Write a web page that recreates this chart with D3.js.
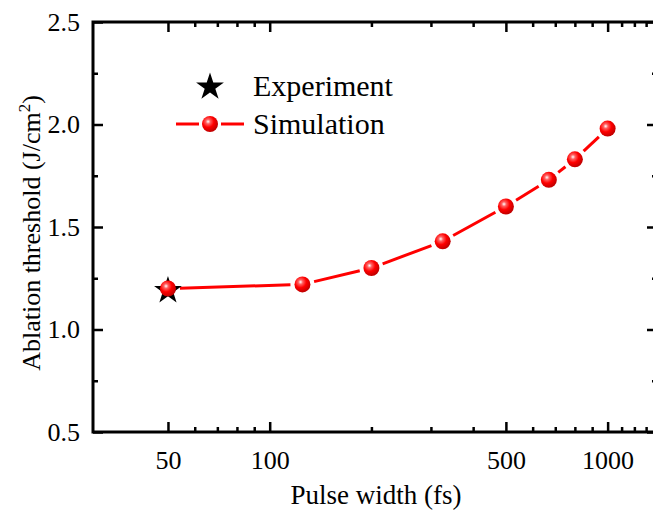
<!DOCTYPE html>
<html>
<head>
<meta charset="utf-8">
<script src="https://cdn.jsdelivr.net/npm/d3@7"></script>
<style>
  body { margin: 0; background: #fff; }
  text { font-family: "Liberation Serif", "Times New Roman", serif; fill: #000; }
</style>
</head>
<body>
<div id="chart"></div>
<script>
// data
const pulseWidth = [50, 125, 200, 325, 500, 670, 800, 1000]
const threshold = [1.2, 1.22, 1.3, 1.43, 1.6, 1.73, 1.83, 1.98]
const expWidth = [50]
const expThreshold = [1.19]

const xMajor = [50, 100, 500, 1000]
const xMinor = [60, 70, 80, 90, 200, 300, 400, 600, 700, 800, 900, 1100, 1200, 1300]
const yMajor = [0.5, 1.0, 1.5, 2.0, 2.5]
const yMinor = [0.75, 1.25, 1.75, 2.25]

const width = 653
const height = 513
const plotL = 93, plotR = 657, plotT = 22, plotB = 432

const svg = d3
  .select("#chart")
  .append("svg")
  .attr("width", width)
  .attr("height", height)

const x = d3.scaleLog().domain([30, 1400]).range([plotL, plotR])
const y = d3.scaleLinear().domain([0.5, 2.5]).range([plotB, plotT])

// gradient for the shiny red balls
const defs = svg.append("defs")
const grad = defs
  .append("radialGradient")
  .attr("id", "ball")
  .attr("cx", "38%")
  .attr("cy", "35%")
  .attr("r", "65%")
grad.append("stop").attr("offset", "0%").attr("stop-color", "#ffffff")
grad.append("stop").attr("offset", "22%").attr("stop-color", "#ff6060")
grad.append("stop").attr("offset", "55%").attr("stop-color", "#ff0000")
grad.append("stop").attr("offset", "100%").attr("stop-color", "#c00000")

// ticks, all pointing inward
function drawTicks(g, axis) {
  g.call(axis)
  g.select(".domain").remove()
  g.selectAll(".tick line").attr("stroke", "#000").attr("stroke-width", 2.5)
  g.selectAll("text").style("font-size", "26px").attr("fill", "#000")
}

svg.append("g")
  .attr("transform", `translate(0,${plotB})`)
  .call((g) => drawTicks(g, d3.axisBottom(x).tickValues(xMajor).tickFormat(d3.format("d")).tickSize(-10).tickPadding(19)))
svg.append("g")
  .attr("transform", `translate(0,${plotB})`)
  .call((g) => drawTicks(g, d3.axisBottom(x).tickValues(xMinor).tickFormat("").tickSize(-5)))
svg.append("g")
  .attr("transform", `translate(0,${plotT})`)
  .call((g) => drawTicks(g, d3.axisTop(x).tickValues(xMajor).tickFormat("").tickSize(-10)))
svg.append("g")
  .attr("transform", `translate(0,${plotT})`)
  .call((g) => drawTicks(g, d3.axisTop(x).tickValues(xMinor).tickFormat("").tickSize(-5)))

svg.append("g")
  .attr("transform", `translate(${plotL},0)`)
  .call((g) => drawTicks(g, d3.axisLeft(y).tickValues(yMajor).tickFormat(d3.format(".1f")).tickSize(-10).tickPadding(13)))
svg.append("g")
  .attr("transform", `translate(${plotL},0)`)
  .call((g) => drawTicks(g, d3.axisLeft(y).tickValues(yMinor).tickFormat("").tickSize(-5)))
svg.append("g")
  .attr("transform", `translate(${plotR},0)`)
  .call((g) => drawTicks(g, d3.axisRight(y).tickValues(yMajor).tickFormat("").tickSize(-10)))
svg.append("g")
  .attr("transform", `translate(${plotR},0)`)
  .call((g) => drawTicks(g, d3.axisRight(y).tickValues(yMinor).tickFormat("").tickSize(-5)))

// frame
svg.append("rect")
  .attr("x", plotL)
  .attr("y", plotT)
  .attr("width", plotR - plotL)
  .attr("height", plotB - plotT)
  .attr("fill", "none")
  .attr("stroke", "#000")
  .attr("stroke-width", 3)

// axis titles
svg.append("text")
  .attr("x", 376)
  .attr("y", 504)
  .attr("text-anchor", "middle")
  .style("font-size", "27px")
  .text("Pulse width (fs)")

const yTitle = svg.append("text")
  .attr("transform", `translate(40,${(plotT + plotB) / 2 + 6}) rotate(-90)`)
  .attr("text-anchor", "middle")
  .style("font-size", "26px")
yTitle.append("tspan").text("Ablation threshold (J/cm")
yTitle.append("tspan").attr("dy", -10).style("font-size", "17px").text("2")
yTitle.append("tspan").attr("dy", 10).text(")")

// simulation line, with small gaps around the balls
const pts = pulseWidth.map((d, i) => [x(d), y(threshold[i])])
const gap = 12
const segs = d3.pairs(pts).map(([a, b]) => {
  const dx = b[0] - a[0], dy = b[1] - a[1]
  const len = Math.hypot(dx, dy)
  const ux = dx / len, uy = dy / len
  return [a[0] + ux * gap, a[1] + uy * gap, b[0] - ux * gap, b[1] - uy * gap]
})
svg.append("g")
  .selectAll("line")
  .data(segs)
  .join("line")
  .attr("x1", (d) => d[0])
  .attr("y1", (d) => d[1])
  .attr("x2", (d) => d[2])
  .attr("y2", (d) => d[3])
  .attr("stroke", "#ff0000")
  .attr("stroke-width", 3)

// experiment star
const star = d3.symbol().type(d3.symbolStar).size(240)
svg.append("g")
  .selectAll("path")
  .data(expWidth)
  .join("path")
  .attr("transform", (d, i) => `translate(${x(d)},${y(expThreshold[i])})`)
  .attr("d", star)
  .attr("fill", "#000")

svg.append("g")
  .selectAll("circle")
  .data(pts)
  .join("circle")
  .attr("cx", (d) => d[0])
  .attr("cy", (d) => d[1])
  .attr("r", 8)
  .attr("fill", "url(#ball)")

// legend
const legend = svg.append("g")
legend.append("path")
  .attr("transform", "translate(210,87)")
  .attr("d", star)
  .attr("fill", "#000")
legend.append("text")
  .attr("x", 253)
  .attr("y", 96)
  .style("font-size", "30px")
  .text("Experiment")
legend.append("line")
  .attr("x1", 176).attr("x2", 199)
  .attr("y1", 124).attr("y2", 124)
  .attr("stroke", "#ff0000").attr("stroke-width", 3)
legend.append("line")
  .attr("x1", 221).attr("x2", 244)
  .attr("y1", 124).attr("y2", 124)
  .attr("stroke", "#ff0000").attr("stroke-width", 3)
legend.append("circle")
  .attr("cx", 210).attr("cy", 124)
  .attr("r", 8)
  .attr("fill", "url(#ball)")
legend.append("text")
  .attr("x", 253)
  .attr("y", 134)
  .style("font-size", "30px")
  .text("Simulation")
</script>
</body>
</html>
